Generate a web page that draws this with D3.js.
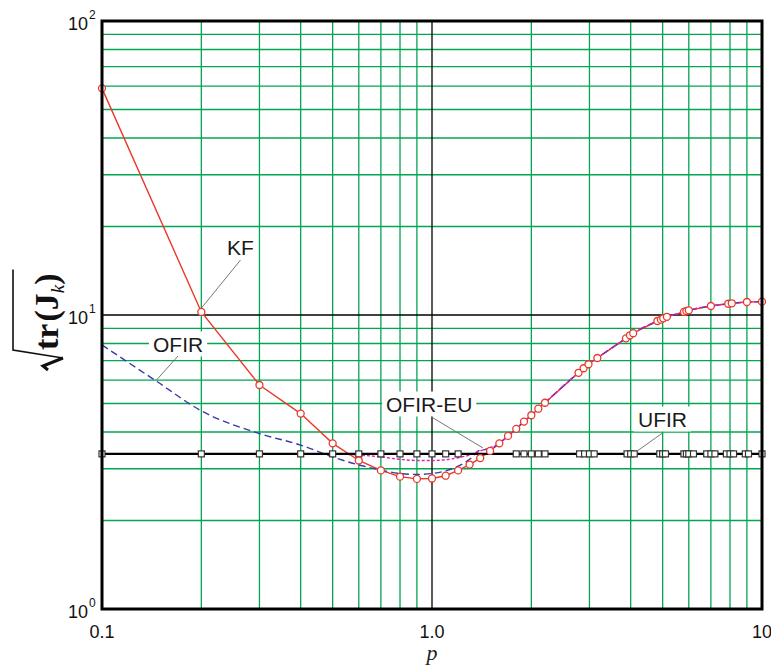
<!DOCTYPE html>
<html><head><meta charset="utf-8">
<script src="https://cdn.jsdelivr.net/npm/d3@7"></script>
<style>
html,body{margin:0;padding:0;background:#fff;}
svg{display:block;}
</style></head>
<body>
<svg id="chart" width="771" height="667"></svg>
<script>
// ---------------- data ----------------
const pKF = [0.1,0.2,0.3,0.4,0.5,0.6,0.7,0.8,0.9,1.0,1.1,1.2,1.3,1.4,1.5,1.6,1.7,1.8,1.9,2.0,2.1,2.2,2.78,2.88,2.98,3.17,3.87,3.98,4.07,4.82,4.94,5.02,5.15,5.8,5.9,6.0,7.0,7.9,8.1,9.0,10];
const vKF = [59,10.24,5.78,4.62,3.66,3.20,2.96,2.82,2.77,2.78,2.84,2.96,3.10,3.26,3.45,3.66,3.88,4.10,4.34,4.56,4.80,5.03,6.36,6.59,6.80,7.14,8.33,8.53,8.67,9.54,9.64,9.74,9.86,10.24,10.32,10.37,10.73,10.92,10.96,11.07,11.1];

const pOFIR = [0.1,0.146,0.2,0.3,0.4,0.5,0.6,0.7,0.8,0.9,1.0,1.1,1.2,1.3,1.4,1.5,1.6,1.7,1.8,1.9,2.0,2.2,2.78,3.17,3.87,4.07,4.82,5.15,5.8,6.0,7.0,8.1,9.0,10];
const vOFIR = [7.91,5.96,4.72,3.95,3.61,3.29,3.09,2.97,2.89,2.87,2.89,2.95,3.06,3.23,3.47,3.50,3.66,3.88,4.10,4.34,4.56,5.03,6.36,7.14,8.33,8.67,9.54,9.86,10.24,10.37,10.73,10.96,11.07,11.1];

const pEU = [0.1,0.2,0.3,0.4,0.5,0.6,0.7,0.8,0.9,1.0,1.1,1.2,1.3,1.4,1.5,1.6,1.7,1.8,1.9,2.0,2.2,2.78,3.17,3.87,4.07,4.82,5.15,5.8,6.0,7.0,8.1,9.0,10];
const vEU = [3.37,3.37,3.37,3.37,3.37,3.34,3.29,3.23,3.20,3.20,3.22,3.27,3.34,3.45,3.54,3.66,3.88,4.10,4.34,4.56,5.03,6.36,7.14,8.33,8.67,9.54,9.86,10.24,10.37,10.73,10.96,11.07,11.1];

const pUF = [0.1,0.2,0.3,0.4,0.5,0.6,0.7,0.8,0.9,1.0,1.1,1.2,1.8,1.9,2.0,2.1,2.2,2.8,2.9,3.0,3.1,3.9,4.0,4.1,4.9,5.0,5.1,5.8,5.9,6.0,6.2,6.8,7.0,7.2,7.8,8.0,8.2,8.9,9.1,10];
const vUF = [3.37,3.37,3.37,3.37,3.37,3.37,3.37,3.37,3.37,3.37,3.37,3.37,3.37,3.37,3.37,3.37,3.37,3.37,3.37,3.37,3.37,3.37,3.37,3.37,3.37,3.37,3.37,3.37,3.37,3.37,3.37,3.37,3.37,3.37,3.37,3.37,3.37,3.37,3.37,3.37];

const xTickVals = [0.1, 1, 10];
const xTickLabels = ["0.1", "1.0", "10"];
const yTickVals = [1, 10, 100];
const yTickExp = ["0", "1", "2"];
const xGridMinor = [0.2,0.3,0.4,0.5,0.6,0.7,0.8,0.9,2,3,4,5,6,7,8,9];
const yGridMinor = [2,3,4,5,6,7,8,9,20,30,40,50,60,70,80,90];

const annotations = [
  {text:"KF", x:227, y:255, lx1:240.5, ly1:260, lx2:201.5, ly2:308},
  {text:"OFIR", x:153, y:351.5, lx1:178, ly1:356, lx2:156.5, ly2:380},
  {text:"OFIR-EU", x:386, y:411.5, lx1:431.5, ly1:417, lx2:483, ly2:448},
  {text:"UFIR", x:638, y:426.5, lx1:662.5, ly1:433, lx2:636.5, ly2:451.5}
];

// ---------------- layout ----------------
const svg = d3.select("#chart");
const L = 102, R = 762, T = 21, B = 609;
const x = d3.scaleLog().domain([0.1, 10]).range([L, R]);
const y = d3.scaleLog().domain([1, 100]).range([B, T]);

const GREEN = "#00a651", RED = "#e8392b", BLUE = "#3a3aa8", MAG = "#e01fb4";
const sansFont = "'Liberation Sans', Arial, Helvetica, sans-serif";
const serifFont = "'Liberation Serif', 'Times New Roman', serif";

// grid
const grid = svg.append("g");
grid.selectAll("line.vx").data(xGridMinor).join("line")
  .attr("x1", d => x(d)).attr("x2", d => x(d)).attr("y1", T).attr("y2", B)
  .attr("stroke", GREEN).attr("stroke-width", 1.3);
grid.selectAll("line.hy").data(yGridMinor).join("line")
  .attr("y1", d => y(d)).attr("y2", d => y(d)).attr("x1", L).attr("x2", R)
  .attr("stroke", GREEN).attr("stroke-width", 1.3);
grid.append("line").attr("x1", x(1)).attr("x2", x(1)).attr("y1", T).attr("y2", B)
  .attr("stroke", "#000").attr("stroke-width", 1.3);
grid.append("line").attr("y1", y(10)).attr("y2", y(10)).attr("x1", L).attr("x2", R)
  .attr("stroke", "#000").attr("stroke-width", 1.3);

// series lines
const mk = (px, vy, curve) => d3.line().x((d,i) => x(px[i])).y(d => y(d)).curve(curve)(vy);

svg.append("path").attr("d", mk(pKF, vKF, d3.curveLinear))
  .attr("fill", "none").attr("stroke", RED).attr("stroke-width", 1.4);
svg.append("path").attr("d", mk(pOFIR, vOFIR, d3.curveMonotoneX))
  .attr("fill", "none").attr("stroke", BLUE).attr("stroke-width", 1.4)
  .attr("stroke-dasharray", "7,4");
svg.append("path").attr("d", mk(pEU, vEU, d3.curveMonotoneX))
  .attr("fill", "none").attr("stroke", MAG).attr("stroke-width", 1.4)
  .attr("stroke-dasharray", "3,2");
svg.append("path").attr("d", mk(pUF, vUF, d3.curveLinear))
  .attr("fill", "none").attr("stroke", "#000").attr("stroke-width", 2.4);

// UFIR markers
svg.append("g").selectAll("rect").data(vUF).join("rect")
  .attr("x", (d,i) => x(pUF[i]) - 3).attr("y", d => y(d) - 3)
  .attr("width", 6).attr("height", 6)
  .attr("fill", "#fff").attr("stroke", "#333").attr("stroke-width", 1.2);

// KF markers
svg.append("g").selectAll("circle").data(vKF).join("circle")
  .attr("cx", (d,i) => x(pKF[i])).attr("cy", d => y(d)).attr("r", 3.5)
  .attr("fill", "#fff").attr("stroke", RED).attr("stroke-width", 1.3);

// frame
svg.append("rect").attr("x", L).attr("y", T).attr("width", R - L).attr("height", B - T)
  .attr("fill", "none").attr("stroke", "#000").attr("stroke-width", 3);

// annotations
const ann = svg.append("g");
annotations.forEach(a => {
  const t = ann.append("text").attr("x", a.x).attr("y", a.y)
    .attr("font-family", sansFont).attr("font-size", 21).attr("fill", "#1a1a1a").text(a.text);
  const bb = t.node().getBBox();
  ann.insert("rect", "text").attr("x", bb.x - 4).attr("y", bb.y - 1)
    .attr("width", bb.width + 8).attr("height", bb.height + 2).attr("fill", "#fff");
  ann.append("line").attr("x1", a.lx1).attr("y1", a.ly1).attr("x2", a.lx2).attr("y2", a.ly2)
    .attr("stroke", "#666").attr("stroke-width", 0.9);
});

// x tick labels
svg.append("g").selectAll("text").data(xTickVals).join("text")
  .attr("x", d => x(d)).attr("y", 638).attr("text-anchor", "middle")
  .attr("font-family", sansFont).attr("font-size", 18).attr("fill", "#111")
  .text((d,i) => xTickLabels[i]);

// y tick labels 10^n
const yt = svg.append("g");
yTickVals.forEach((v, i) => {
  yt.append("text").attr("x", 88).attr("y", y(v) + 9).attr("text-anchor", "end")
    .attr("font-family", sansFont).attr("font-size", 18).attr("fill", "#111").text("10");
  yt.append("text").attr("x", 89).attr("y", y(v) - 2)
    .attr("font-family", sansFont).attr("font-size", 12).attr("fill", "#111").text(yTickExp[i]);
});

// x axis title
svg.append("text").attr("x", x(1)).attr("y", 660).attr("text-anchor", "middle")
  .attr("font-family", serifFont).attr("font-style", "italic").attr("font-size", 22)
  .attr("fill", "#222").text("p");

// y axis title: sqrt(tr(J_k))
const yl = svg.append("g").attr("transform", "translate(58,350) rotate(-90)");
const yt2 = yl.append("text").attr("x", 0).attr("y", 0)
  .attr("font-family", serifFont).attr("font-weight", "bold").attr("font-size", 34).attr("fill", "#111");
yt2.append("tspan").text("tr");
yt2.append("tspan").attr("dx", 2).text("(");
yt2.append("tspan").text("J");
yt2.append("tspan").attr("font-size", 19).attr("font-style", "italic").attr("font-weight", "normal")
  .attr("dy", 6).text("k");
yt2.append("tspan").attr("dy", -6).text(")");
const tl = yt2.node().getComputedTextLength();
// radical sign
svg.append("path").attr("d", `M13,${350 - tl - 6} V350 L63,358`)
  .attr("fill", "none").attr("stroke", "#111").attr("stroke-width", 1.6);
svg.append("path").attr("d", "M63,358 L43,366 L48,370")
  .attr("fill", "none").attr("stroke", "#111").attr("stroke-width", 3).attr("stroke-linejoin", "miter");
</script>
</body></html>
